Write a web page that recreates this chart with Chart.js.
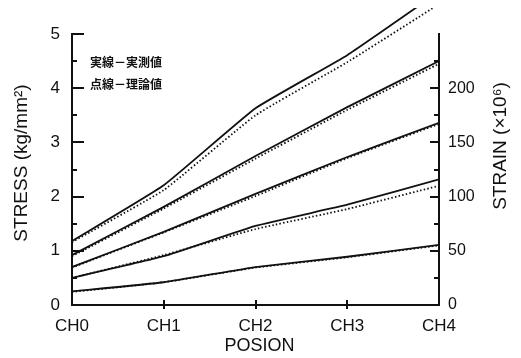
<!DOCTYPE html>
<html>
<head>
<meta charset="UTF-8">
<script src="https://cdn.jsdelivr.net/npm/chart.js@4"></script>
<style>
  html, body { margin: 0; padding: 0; background: #fff; }
  #wrap { width: 521px; height: 358px; }
</style>
</head>
<body>
<div id="wrap"><canvas id="c"></canvas></div>
<script>
// positions along the member
const positions = ['CH0', 'CH1', 'CH2', 'CH3', 'CH4'];

// measured values (solid), stress kg/mm2
const measured1 = [1.18, 2.21, 3.63, 4.61, 5.78];
const measured2 = [0.92, 1.81, 2.75, 3.65, 4.50];
const measured3 = [0.70, 1.35, 2.05, 2.73, 3.36];
const measured4 = [0.50, 0.90, 1.46, 1.85, 2.32];
const measured5 = [0.25, 0.42, 0.70, 0.89, 1.11];

// theoretical values (dotted)
const theory1 = [1.16, 2.12, 3.50, 4.48, 5.55];
const theory2 = [0.90, 1.78, 2.70, 3.60, 4.45];
const theory3 = [0.69, 1.34, 2.01, 2.71, 3.34];
const theory4 = [0.50, 0.92, 1.40, 1.77, 2.20];
const theory5 = [0.24, 0.42, 0.69, 0.88, 1.10];

const stressTicks = [0, 1, 2, 3, 4, 5];
const strainTicks = [0, 50, 100, 150, 200];

const legendLines = ['実線－実測値', '点線－理論値'];

const FONT = "'Liberation Sans', Arial, sans-serif";
const INK = '#111';

function solid(data) {
  return { data, borderColor: INK, borderWidth: 1.8, pointRadius: 0, tension: 0.12,
    fill: false, clip: { left: 0, top: 26, right: 0, bottom: 0 } };
}
function dotted(data) {
  return { data, borderColor: INK, borderWidth: 1.8, borderDash: [1.5, 2.2], pointRadius: 0,
    tension: 0.12, fill: false, clip: { left: 0, top: 26, right: 0, bottom: 0 } };
}

// inward ticks, axis titles and the legend note
const decor = {
  id: 'decor',
  afterDraw(chart) {
    const ctx = chart.ctx;
    const area = chart.chartArea;
    const y = chart.scales.y, y2 = chart.scales.y2, x = chart.scales.x;
    ctx.save();
    ctx.setLineDash([]);
    ctx.strokeStyle = INK;
    ctx.lineWidth = 2;
    ctx.beginPath();
    // left ticks every 0.5
    for (let v = 0.5; v <= 5; v += 0.5) {
      const p = Math.round(y.getPixelForValue(v));
      const len = v % 1 === 0 ? 12 : 5;
      ctx.moveTo(area.left, p); ctx.lineTo(area.left + len, p);
    }
    // right ticks every 25
    for (let v = 25; v < 250; v += 25) {
      const p = Math.round(y2.getPixelForValue(v));
      const len = v % 50 === 0 ? 9 : 5;
      ctx.moveTo(area.right, p); ctx.lineTo(area.right - len, p);
    }
    // x ticks crossing the axis
    for (let i = 1; i < positions.length - 1; i++) {
      const p = Math.round(x.getPixelForValue(i));
      ctx.moveTo(p, area.bottom - 5); ctx.lineTo(p, area.bottom + 4);
    }
    ctx.stroke();
    // titles
    ctx.fillStyle = INK;
    ctx.textAlign = 'center';
    ctx.textBaseline = 'middle';
    ctx.font = '19px ' + FONT;
    ctx.save();
    ctx.translate(22, 163);
    ctx.rotate(-Math.PI / 2);
    ctx.fillText('STRESS (kg/mm²)', 0, 0);
    ctx.restore();
    ctx.save();
    ctx.translate(501, 146);
    ctx.rotate(-Math.PI / 2);
    ctx.fillText('STRAIN (×10⁶)', 0, 0);
    ctx.restore();
    ctx.font = '18px ' + FONT;
    ctx.fillText('POSION', (area.left + area.right) / 2 + 4, 346);
    // legend note
    ctx.textAlign = 'left';
    ctx.font = "bold 12px 'Noto Sans CJK JP', sans-serif";
    ctx.fillText(legendLines[0], 90, 62);
    ctx.fillText(legendLines[1], 90, 84);
    ctx.restore();
  }
};

new Chart(document.getElementById('c'), {
  type: 'line',
  data: {
    labels: positions,
    datasets: [
      solid(measured1), dotted(theory1),
      solid(measured2), dotted(theory2),
      solid(measured3), dotted(theory3),
      solid(measured4), dotted(theory4),
      solid(measured5), dotted(theory5)
    ]
  },
  options: {
    responsive: true,
    maintainAspectRatio: false,
    animation: false,
    layout: { padding: { top: 34, left: 0, right: 0, bottom: 0 } },
    plugins: { legend: { display: false }, tooltip: { enabled: false } },
    scales: {
      x: {
        offset: false,
        grid: { display: false, drawTicks: false },
        border: { color: INK, width: 2 },
        ticks: { color: INK, padding: 11, font: { family: FONT, size: 17 }, maxRotation: 0 },
        afterFit: s => { s.height = 53; }
      },
      y: {
        position: 'left',
        min: 0, max: 5,
        afterBuildTicks: s => { s.ticks = stressTicks.map(v => ({ value: v })); },
        grid: { display: false, drawTicks: false },
        border: { color: INK, width: 2 },
        ticks: { color: INK, padding: 12, font: { family: FONT, size: 17 } },
        afterFit: s => { s.width = 72; }
      },
      y2: {
        position: 'right',
        min: 0, max: 250,
        afterBuildTicks: s => { s.ticks = strainTicks.map(v => ({ value: v })); },
        grid: { display: false, drawTicks: false },
        border: { color: INK, width: 2 },
        ticks: { color: INK, padding: 9, font: { family: FONT, size: 16 } },
        afterFit: s => { s.width = 82; }
      }
    }
  },
  plugins: [decor]
});
</script>
</body>
</html>
